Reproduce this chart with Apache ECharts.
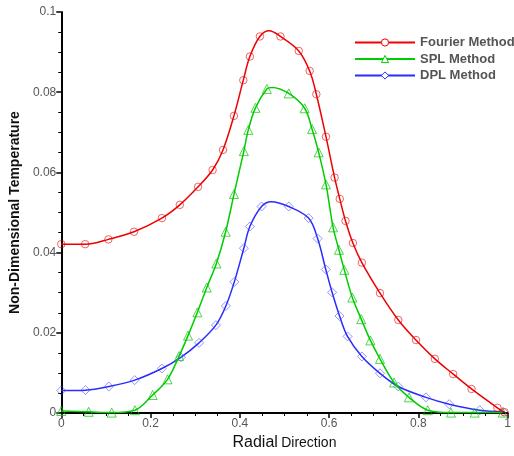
<!DOCTYPE html>
<html>
<head>
<meta charset="utf-8">
<script src="https://cdn.jsdelivr.net/npm/echarts@6/dist/echarts.min.js"></script>
<style>html,body{margin:0;padding:0;background:#fff}#c{width:514px;height:456px}</style>
</head>
<body>
<div id="c"></div>
<script>
const fourierX = [0, 0.0536, 0.1056, 0.163, 0.2254, 0.2656, 0.3065, 0.339, 0.3623, 0.3868, 0.4078, 0.4225, 0.4449, 0.466, 0.491, 0.532, 0.5565, 0.5714, 0.593, 0.6123, 0.6239, 0.6368, 0.6533, 0.6734, 0.714, 0.755, 0.7946, 0.837, 0.878, 0.919, 0.977, 0.993];
const fourierY = [0.0421, 0.0421, 0.0433, 0.0452, 0.0486, 0.0519, 0.0564, 0.0606, 0.0656, 0.0741, 0.0830, 0.0889, 0.0939, 0.0953, 0.0939, 0.0903, 0.0853, 0.0795, 0.0689, 0.0587, 0.0534, 0.0479, 0.0424, 0.0375, 0.0299, 0.0232, 0.0182, 0.0135, 0.0097, 0.0060, 0.0013, 0.0002];
const fourierNoMark = [13];

const splX = [0, 0.0614, 0.113, 0.165, 0.2047, 0.238, 0.264, 0.284, 0.305, 0.326, 0.3475, 0.3683, 0.387, 0.409, 0.419, 0.435, 0.4605, 0.472, 0.5096, 0.5453, 0.5618, 0.5766, 0.593, 0.609, 0.622, 0.634, 0.652, 0.672, 0.6926, 0.714, 0.7455, 0.779, 0.821, 0.873, 0.926, 0.989];
const splY = [0.0005, 0.0003, 0.0001, 0.0007, 0.0045, 0.0084, 0.0142, 0.0193, 0.0251, 0.0313, 0.0373, 0.0452, 0.0546, 0.0653, 0.0706, 0.0761, 0.0808, 0.0812, 0.0797, 0.0760, 0.0708, 0.0650, 0.0570, 0.0463, 0.0407, 0.0357, 0.0288, 0.0234, 0.0181, 0.0135, 0.0076, 0.0039, 0.0007, 0.0001, 0.0001, 0.0001];
const splNoMark = [17];

const dplX = [0, 0.0542, 0.1065, 0.1645, 0.2254, 0.2679, 0.3087, 0.3464, 0.3688, 0.3877, 0.409, 0.4225, 0.4487, 0.4700, 0.5096, 0.554, 0.5743, 0.5926, 0.6067, 0.6234, 0.6413, 0.6734, 0.714, 0.755, 0.817, 0.869, 0.9375, 0.9896];
const dplY = [0.0056, 0.0057, 0.0066, 0.0082, 0.0111, 0.0139, 0.0175, 0.0219, 0.0267, 0.0327, 0.0411, 0.0465, 0.0515, 0.0527, 0.0515, 0.0486, 0.0435, 0.0358, 0.0301, 0.0242, 0.0191, 0.0141, 0.0099, 0.0066, 0.0039, 0.0022, 0.0007, 0.0003];
const dplNoMark = [13];

const seriesNames = ['Fourier Method', 'SPL Method', 'DPL Method'];
const xTicks = ['0', '0.2', '0.4', '0.6', '0.8', '1'];
const yTicks = ['0', '0.02', '0.04', '0.06', '0.08', '0.1'];

function build(xs, ys, noMark) {
  return xs.map((x, i) => noMark.indexOf(i) >= 0
    ? { value: [x, ys[i]], symbol: 'none' }
    : { value: [x, ys[i]] });
}

const colors = ['#ee0000', '#00cc00', '#2b2bff'];
const markColors = ['rgba(230,0,0,0.6)', 'rgba(0,200,0,0.7)', 'rgba(60,60,255,0.55)'];
const symbols = ['circle', 'triangle', 'diamond'];
const sizes = [7.5, 9, 9];
const datas = [build(fourierX, fourierY, fourierNoMark), build(splX, splY, splNoMark), build(dplX, dplY, dplNoMark)];

const chart = echarts.init(document.getElementById('c'), null, { renderer: 'canvas' });
chart.setOption({
  animation: false,
  backgroundColor: '#fff',
  grid: { left: 60, right: 6, top: 12, bottom: 43, containLabel: false },
  legend: {
    orient: 'vertical', left: 349, top: 31,
    itemWidth: 60, itemHeight: 9, itemGap: 3.5,
    textStyle: { fontFamily: 'Liberation Sans, Arial', fontSize: 13, fontWeight: 'bold', color: '#555' },
    data: seriesNames.map((n, i) => ({
      name: n,
      itemStyle: { color: '#ffffff', borderColor: colors[i], borderWidth: 1 }
    }))
  },
  xAxis: {
    type: 'value', min: 0, max: 1, interval: 0.2,
    name: '{a|Radial} {b|Direction}', nameLocation: 'middle', nameGap: 17,
    nameTextStyle: { rich: {
      a: { fontFamily: 'Liberation Sans, Arial', fontSize: 16, color: '#111' },
      b: { fontFamily: 'Liberation Sans, Arial', fontSize: 14, color: '#111' } } },
    axisLine: { show: true, onZero: false, lineStyle: { color: '#000', width: 2 } },
    axisTick: { show: true, length: 5, lineStyle: { color: '#000', width: 1.5 } },
    minorTick: { show: true, splitNumber: 4, length: 3, lineStyle: { color: '#000', width: 1 } },
    splitLine: { show: false },
    axisLabel: { fontFamily: 'Liberation Sans, Arial', fontSize: 12, color: '#555', margin: 5,
      formatter: v => xTicks[Math.round(v / 0.2)] }
  },
  yAxis: {
    type: 'value', min: 0, max: 0.1, interval: 0.02,
    name: 'Non-Dimensional Temperature', nameLocation: 'middle', nameGap: 32,
    nameTextStyle: { fontFamily: 'Liberation Sans, Arial', fontSize: 14, fontWeight: 'bold', color: '#111' },
    axisLine: { show: true, onZero: false, lineStyle: { color: '#000', width: 2 } },
    axisTick: { show: true, length: 5, lineStyle: { color: '#000', width: 1.5 } },
    minorTick: { show: true, splitNumber: 4, length: 3, lineStyle: { color: '#000', width: 1 } },
    splitLine: { show: false },
    axisLabel: { fontFamily: 'Liberation Sans, Arial', fontSize: 12, color: '#555', margin: 5,
      formatter: v => yTicks[Math.round(v / 0.02)] }
  },
  series: seriesNames.map((n, i) => ({
    name: n, type: 'line', data: datas[i], smooth: 0.35,
    symbol: symbols[i], symbolSize: sizes[i], showAllSymbol: true,
    lineStyle: { color: colors[i], width: 1.5 },
    itemStyle: { color: 'rgba(255,255,255,0)', borderColor: markColors[i], borderWidth: 1 },
    z: 3 - i
  }))
});
</script>
</body>
</html>
